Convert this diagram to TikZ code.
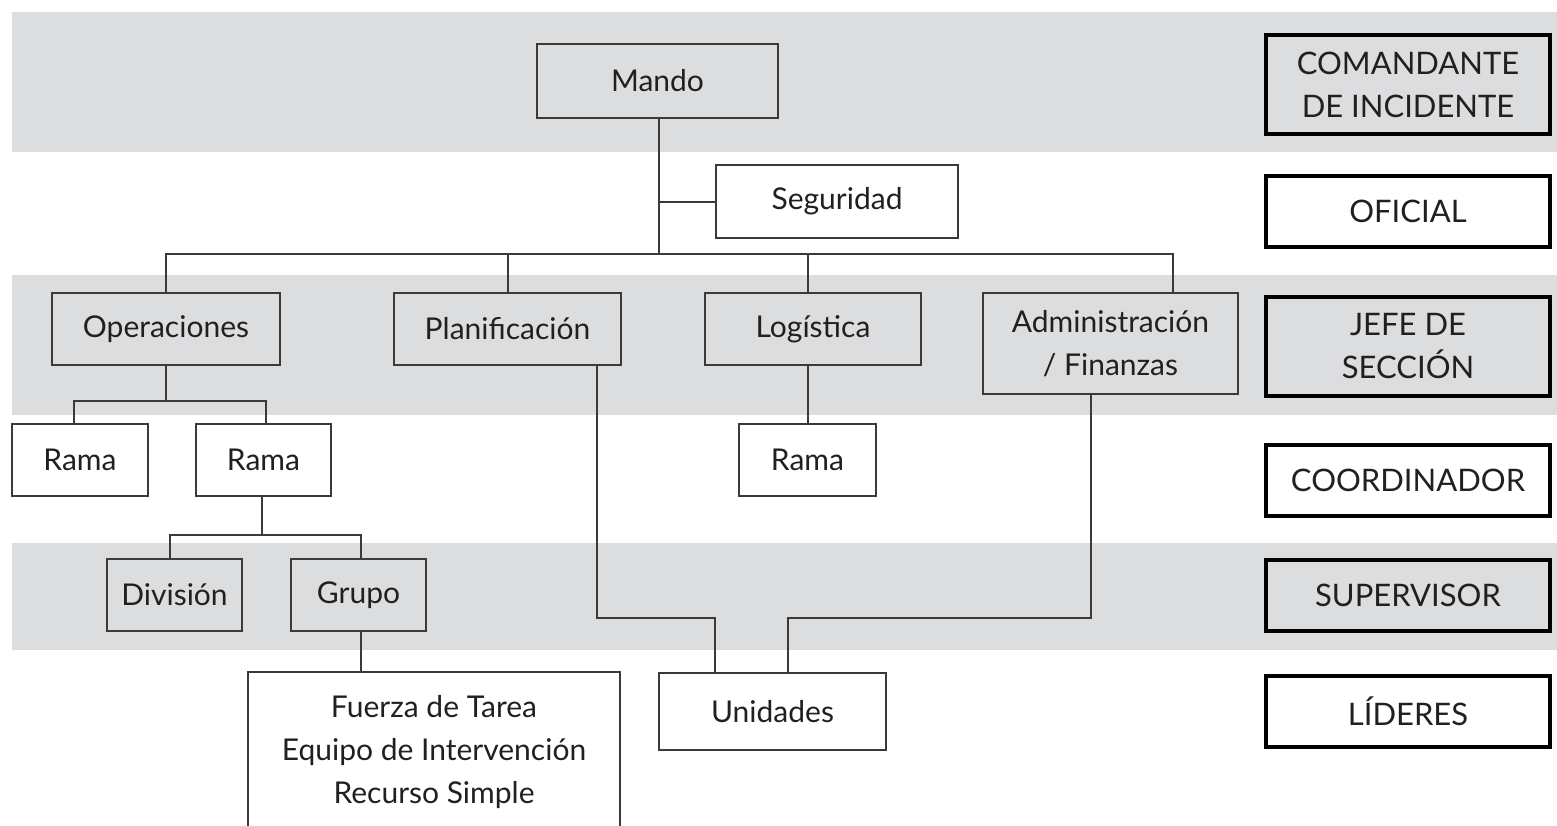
\documentclass[tikz,border=0pt]{standalone}
\usepackage{fontspec}
\setmainfont{Lato}
\usetikzlibrary{positioning, calc}

\definecolor{bandgray}{RGB}{220,221,223}
\definecolor{linegray}{RGB}{58,58,58}
\definecolor{textdark}{RGB}{35,31,32}

\begin{document}
\begin{tikzpicture}[
    x=0.5pt, y=-0.5pt,
    orgbox/.style   = {rectangle, draw=linegray, line width=1pt, fill=bandgray,
                       align=center, text=textdark, minimum height=36pt, inner sep=2pt,
                       font=\fontsize{15}{21.5}\selectfont},
    whitebox/.style = {orgbox, fill=white},
    levelbox/.style = {rectangle, draw=black, line width=2pt, fill=bandgray,
                       align=center, text=textdark, minimum width=142pt, minimum height=35.5pt,
                       font=\fontsize{15.5}{21.5}\selectfont},
    link/.style     = {draw=linegray, line width=1pt}
]

\useasboundingbox (0,0) rectangle (1557,825);
\clip (0,0) rectangle (1557,825);

% =====================
% Background bands
% =====================
\fill[bandgray] (12,12)  rectangle (1557,152);
\fill[bandgray] (12,275) rectangle (1557,415);
\fill[bandgray] (12,543) rectangle (1557,650);

% =====================
% Nodes (top to bottom)
% =====================

% Command
\node[orgbox, minimum width=120.5pt, minimum height=37pt] (mando) at (657.5,81) {Mando};
\node[whitebox, minimum width=121pt, minimum height=36.5pt] (seg) at (837,201.5) {Seguridad};

% Sections
\node[orgbox, minimum width=114pt] (ops) at (166,329) {Operaciones};
\node[orgbox, minimum width=113.5pt] (plan) at (507.5,329) {Planificación};
\node[orgbox, minimum width=108pt] (log) at (813,329) {Logística};
\node[orgbox, minimum width=127.5pt, minimum height=50.5pt] (admin) at (1110.5,343.5) {Administración\\ / Finanzas};

% Branches
\node[whitebox, minimum width=68pt] (ramaA) at (80,460) {Rama};
\node[whitebox, minimum width=67.5pt] (ramaB) at (263.5,460) {Rama};
\node[whitebox, minimum width=68.5pt] (ramaC) at (807.5,460) {Rama};

% Divisions / groups
\node[orgbox, minimum width=67.5pt] (div) at (174.5,595) {División};
\node[orgbox, minimum width=67.5pt] (grupo) at (358.5,595) {Grupo};

% Resources
\node[whitebox, minimum width=186pt, minimum height=80pt] (fuerza) at (434,752) {Fuerza de Tarea\\ Equipo de Intervención\\ Recurso Simple};
\node[whitebox, minimum width=113.5pt, minimum height=38.5pt] (unid) at (772.5,711.5) {Unidades};

% Levels (right column)
\node[levelbox, minimum height=49.5pt] (cmd) at (1408,84.5) {COMANDANTE\\ DE INCIDENTE};
\node[levelbox, fill=white] (ofi) at (1408,211.5) {OFICIAL};
\node[levelbox, minimum height=49.5pt] (jefe) at (1408,346.5) {JEFE DE\\ SECCIÓN};
\node[levelbox, fill=white] (coord) at (1408,480.5) {COORDINADOR};
\node[levelbox] (sup) at (1408,595.5) {SUPERVISOR};
\node[levelbox, fill=white] (lid) at (1408,711.5) {LÍDERES};

% ====================================
% Connections
% ====================================
\coordinate (bus) at (659,254);
\coordinate (log-in) at (808,293);
\coordinate (admin-in) at (1173,293);
\coordinate (ops-fork) at (166,401);
\coordinate (rama-fork) at (262,535);
\coordinate (plan-out) at (597,364);
\coordinate (admin-out) at (1091,394);
\coordinate (join) at (0,618);
\coordinate (unid-a) at (715,673);
\coordinate (unid-b) at (788,673);

\draw[link] (mando.south -| bus) -- (bus);
\draw[link] (seg.west) -- (seg.west -| bus);
\draw[link] (ops.north) |- (bus) -| (admin-in);
\draw[link] (plan.north) -- (plan.north |- bus);
\draw[link] (log-in) -- (log-in |- bus);

\draw[link] (ops.south) -- (ops-fork);
\draw[link] ([xshift=-3pt]ramaA.north) |- (ops-fork) -| ([xshift=1pt]ramaB.north);

\draw[link] (ramaB.south -| rama-fork) -- (rama-fork);
\draw[link] ([xshift=-2.5pt]div.north) |- (rama-fork) -| ([xshift=1pt]grupo.north);
\draw[link] ([xshift=1pt]grupo.south) -- ([xshift=1pt]grupo.south |- fuerza.north);

\draw[link] (ramaC.north) -- (ramaC.north |- log.south);

\draw[link] (plan-out) -- (plan-out |- join) -| (unid-a);
\draw[link] (admin-out) -- (admin-out |- join) -| (unid-b);

\end{tikzpicture}
\end{document}
